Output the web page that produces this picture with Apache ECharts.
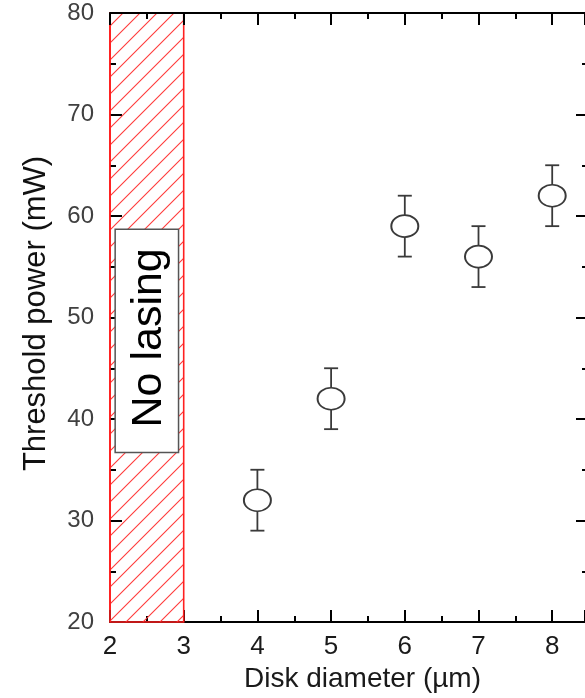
<!DOCTYPE html>
<html><head><meta charset="utf-8">
<script src="https://cdn.jsdelivr.net/npm/echarts@6/dist/echarts.min.js"></script>
<style>html,body{margin:0;padding:0;background:#fff}#c{width:585px;height:698px}</style>
</head><body><div id="c"></div>
<script>
// ---- data ----
const diameters = [4, 5, 6, 7, 8];
const threshold = [32, 42, 59, 56, 62];
const errMinus = [3, 3, 3, 3, 3];
const errPlus = [3, 3, 3, 3, 3];
const noLasingX = [2, 3];
const noLasingY = [20, 80];
const labelBoxX = [2.07, 2.93];
const labelBoxY = [36.7, 58.7];
const labelText = 'No lasing';
const xTitle = 'Disk diameter (µm)';
const yTitle = 'Threshold power (mW)';

const FONT = 'Liberation Sans, Arial, sans-serif';

function hatch() {
  const s = 17;
  const c = document.createElement('canvas');
  c.width = s; c.height = s;
  const g = c.getContext('2d');
  g.strokeStyle = '#ff3b3b';
  g.lineWidth = 1.1;
  g.beginPath();
  g.moveTo(0, s); g.lineTo(s, 0);
  g.moveTo(-3, 3); g.lineTo(3, -3);
  g.moveTo(s - 3, s + 3); g.lineTo(s + 3, s - 3);
  g.stroke();
  return c;
}

const chart = echarts.init(document.getElementById('c'), null, {renderer: 'canvas'});

const tickBase = {
  axisLine: {show: true, lineStyle: {color: '#000', width: 2}},
  axisTick: {show: true, inside: true, length: 12, lineStyle: {color: '#000', width: 2}},
  minorTick: {show: true, splitNumber: 2, length: 6, lineStyle: {color: '#000', width: 2}},
  splitLine: {show: false},
  minorSplitLine: {show: false}
};

const X_MAX = 8.445;

const option = {
  animation: false,
  backgroundColor: '#fff',
  grid: {left: 110, top: 13, right: 0, height: 610, containLabel: false},
  xAxis: [
    Object.assign({
      type: 'value', position: 'bottom', min: 2, max: X_MAX, interval: 1,
      axisLabel: {fontSize: 26, color: '#1a1a1a', margin: 12, fontFamily: FONT,
        showMaxLabel: false,
        formatter: v => Number.isInteger(v) ? String(v) : ''},
      name: xTitle, nameLocation: 'middle', nameGap: 43,
      nameTextStyle: {fontSize: 28, color: '#1a1a1a', fontFamily: FONT, padding: [0, 0, 0, 30]}
    }, tickBase),
    Object.assign({
      type: 'value', position: 'top', min: 2, max: X_MAX, interval: 1, z: 5,
      axisLabel: {show: false}
    }, tickBase)
  ],
  yAxis: [
    Object.assign({}, tickBase, {
      type: 'value', position: 'left', min: 20, max: 80, interval: 10,
      axisLine: {show: true, lineStyle: {color: '#ff3030', width: 2}},
      axisLabel: {fontSize: 24, color: '#404040', margin: 16, fontFamily: FONT},
      name: yTitle, nameLocation: 'middle', nameGap: 58, nameRotate: 90,
      nameTextStyle: {fontSize: 31, color: '#111', fontFamily: FONT, padding: [0, 0, 0, 8]}
    }),
    Object.assign({}, tickBase, {
      type: 'value', position: 'right', min: 20, max: 80, interval: 10,
      axisLine: {show: false},
      axisTick: {show: true, inside: true, length: 9, lineStyle: {color: '#000', width: 2}},
      minorTick: {show: true, splitNumber: 2, length: 3, lineStyle: {color: '#000', width: 2}},
      axisLabel: {show: false}
    })
  ],
  series: [
    {
      type: 'line', data: [], z: 1,
      markArea: {
        silent: true,
        itemStyle: {color: {image: hatch(), repeat: 'repeat'}, borderColor: '#ff2020', borderWidth: 1.6},
        data: [[{xAxis: noLasingX[0], yAxis: noLasingY[0]}, {xAxis: noLasingX[1], yAxis: noLasingY[1]}]]
      }
    },
    {
      type: 'custom', z: 3, clip: false,
      data: [[labelBoxX[0], labelBoxY[1], labelBoxX[1], labelBoxY[0]]],
      encode: {x: [0, 2], y: [1, 3]},
      renderItem(params, api) {
        const p1 = api.coord([api.value(0), api.value(1)]);
        const p2 = api.coord([api.value(2), api.value(3)]);
        const cx = (p1[0] + p2[0]) / 2, cy = (p1[1] + p2[1]) / 2;
        return {type: 'group', children: [
          {type: 'rect', shape: {x: p1[0], y: p1[1], width: p2[0] - p1[0], height: p2[1] - p1[1]},
           style: {fill: '#fff', stroke: '#555', lineWidth: 1.5}},
          {type: 'text', x: cx + 2, y: cy - 3, rotation: Math.PI / 2,
           style: {text: labelText, fontSize: 43, fontFamily: FONT, fill: '#000', align: 'center', verticalAlign: 'middle'}}
        ]};
      }
    },
    {
      type: 'custom', z: 3, clip: false,
      data: diameters.map((d, i) => [d, threshold[i], errMinus[i], errPlus[i]]),
      encode: {x: 0, y: 1},
      renderItem(params, api) {
        const x = api.value(0), y = api.value(1), lo = api.value(2), hi = api.value(3);
        const top = api.coord([x, y + hi]);
        const bot = api.coord([x, y - lo]);
        const cw = 7;
        const style = {stroke: '#3a3a3a', lineWidth: 1.8};
        return {type: 'group', children: [
          {type: 'line', shape: {x1: top[0], y1: top[1], x2: bot[0], y2: bot[1]}, style},
          {type: 'line', shape: {x1: top[0] - cw, y1: top[1], x2: top[0] + cw, y2: top[1]}, style},
          {type: 'line', shape: {x1: bot[0] - cw, y1: bot[1], x2: bot[0] + cw, y2: bot[1]}, style}
        ]};
      }
    },
    {
      type: 'scatter', z: 4,
      data: diameters.map((d, i) => [d, threshold[i]]),
      symbol: 'circle', symbolSize: [27, 22],
      itemStyle: {color: '#fff', borderColor: '#3a3a3a', borderWidth: 1.8, opacity: 1}
    }
  ]
};
chart.setOption(option);
</script>
</body></html>
